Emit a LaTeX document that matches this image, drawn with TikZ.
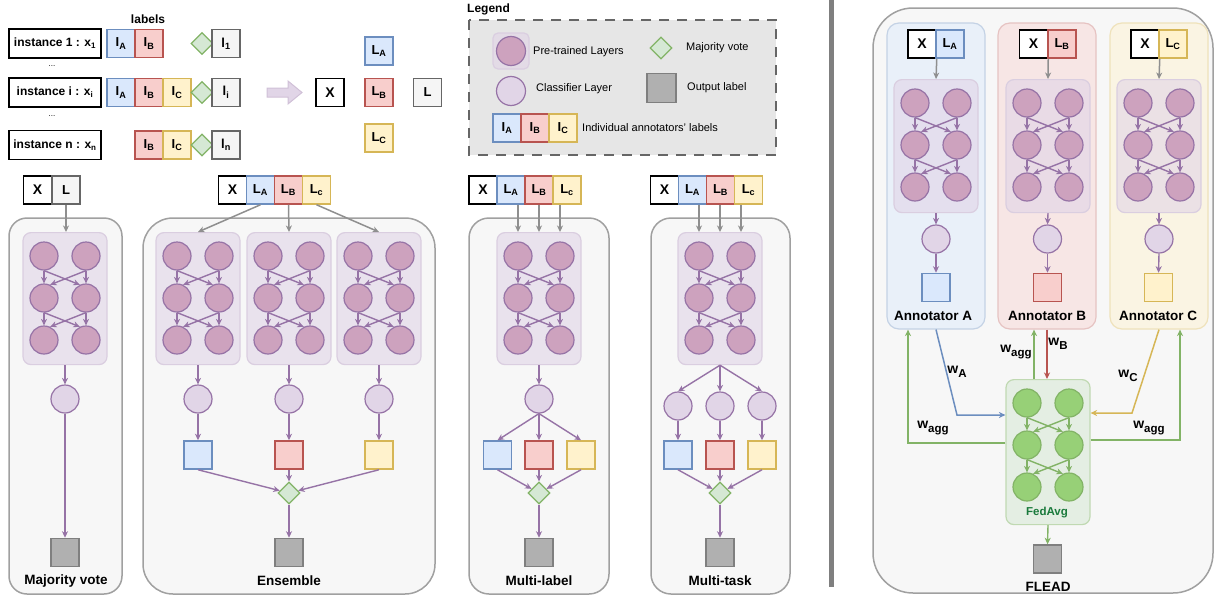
\documentclass[tikz,border=0pt]{standalone}
\usepackage{fontspec}
\setmainfont{Liberation Sans}
\usepackage{xcolor}
\usetikzlibrary{shapes,shapes.geometric,arrows,positioning,calc,arrows.meta}

\definecolor{bluefill}{HTML}{DAE8FC}
\definecolor{blueline}{HTML}{6C8EBF}
\definecolor{redfill}{HTML}{F8CECC}
\definecolor{redline}{HTML}{B85450}
\definecolor{yelfill}{HTML}{FFF2CC}
\definecolor{yelline}{HTML}{D6B656}
\definecolor{greenfill}{HTML}{D5E8D4}
\definecolor{greenline}{HTML}{82B366}
\definecolor{neurgreen}{HTML}{97D077}
\definecolor{purpfill}{HTML}{E1D5E7}
\definecolor{purpline}{HTML}{9673A6}
\definecolor{neurfill}{HTML}{CDA2BE}
\definecolor{grayfill}{HTML}{F5F5F5}
\definecolor{grayline}{HTML}{666666}
\definecolor{outfill}{HTML}{B0B0B0}
\definecolor{outgray}{HTML}{7F7F7F}
\definecolor{panelfill}{HTML}{F7F7F7}
\definecolor{panelline}{HTML}{A0A0A0}
\definecolor{arrowgray}{HTML}{8F8F8F}
\definecolor{legendfill}{HTML}{E6E6E6}
\definecolor{fedtext}{HTML}{1A7A3C}

\newcommand{\fsz}[1]{\fontsize{#1}{#1}\selectfont}
\newcommand{\lowtxt}[1]{\raisebox{-0.3em}{\fsz{11.5}#1}}

% block of pre-trained layers: name, centre x, top y, height, p/g
\newcommand{\layerblock}[5]{%
  \node[blk#5, minimum height=#4, anchor=north] (#1) at (#2,#3) {};
  \foreach \row/\yy in {1/24,2/66,3/108} {
    \node[neur#5] (#1-\row1) at ({#2-21},{#3+\yy}) {};
    \node[neur#5] (#1-\row2) at ({#2+21},{#3+\yy}) {};
  }
  \foreach \row/\nxt in {1/2,2/3} {
    \draw[link#5] (#1-\row1.south) -- (#1-\nxt1.north);
    \draw[link#5] (#1-\row2.south) -- (#1-\nxt2.north);
    \draw[link#5] (#1-\row1.south) -- (#1-\nxt2.115);
    \draw[link#5] (#1-\row2.south) -- (#1-\nxt1.65);
  }
}

\begin{document}
\begin{tikzpicture}[x=1pt, y=-1pt,
    box/.style={draw, line width=1.5pt, minimum width=28, minimum height=28, inner sep=0pt, font=\bfseries\fsz{13}},
    xbox/.style={box, draw=black, fill=white, font=\bfseries\fsz{14}},
    abox/.style={box, draw=blueline, fill=bluefill},
    bbox/.style={box, draw=redline, fill=redfill},
    cbox/.style={box, draw=yelline, fill=yelfill},
    lbox/.style={box, draw=grayline, fill=grayfill},
    inst/.style={draw=black, line width=1.5pt, minimum width=92, minimum height=29, inner sep=0pt, font=\bfseries\fsz{12}},
    vote/.style={diamond, draw=greenline, fill=greenfill, line width=1.2pt, minimum width=22, minimum height=22, inner sep=0pt},
    outsq/.style={draw=outgray, fill=outfill, line width=1.5pt, minimum size=28, inner sep=0pt},
    neurp/.style={circle, draw=purpline, fill=neurfill, line width=1.2pt, minimum size=28, inner sep=0pt},
    neurg/.style={circle, draw=greenline, fill=neurgreen, line width=1.2pt, minimum size=28, inner sep=0pt},
    clf/.style={circle, draw=purpline, fill=purpfill, line width=1.2pt, minimum size=28, inner sep=0pt},
    blkp/.style={draw=purpline!35, fill=purpfill, fill opacity=0.6, rounded corners=8, line width=1.2pt, minimum width=84, inner sep=0pt},
    blkg/.style={draw=greenline!50, fill=greenfill, fill opacity=0.55, rounded corners=8, line width=1.2pt, minimum width=84, inner sep=0pt},
    linkp/.style={draw=purpline, line width=1.4pt, -{Stealth[length=6.5pt,width=6pt,inset=2pt]}},
    linkg/.style={draw=greenline, line width=1.4pt, -{Stealth[length=6.5pt,width=6pt,inset=2pt]}},
    feed/.style={draw=arrowgray, line width=1.5pt, -{Stealth[length=6.5pt,width=6pt,inset=2pt]}},
    flow/.style={draw=#1, line width=1.5pt, -{Stealth[length=6.5pt,width=6pt,inset=2pt]}},
    panel/.style={draw=panelline, fill=panelfill, line width=1.5pt},
    annp/.style={rounded corners=12, line width=1.2pt, minimum width=98, minimum height=306, inner sep=0pt},
    title/.style={font=\bfseries\fsz{13.5}, inner sep=0pt},
    txt/.style={font=\fsz{11}, inner sep=0pt, anchor=west},
    wlab/.style={font=\bfseries\fsz{14}, inner sep=0pt}]
  \useasboundingbox (0,0) rectangle (1214,597);

  % Instances and their labels
  \node[font=\bfseries\fsz{12}, inner sep=0pt] (labtitle) at (148,19) {labels};
  \node[inst] (ins1) at (55,43.5) {instance 1 : x\textsubscript{1}};
  \node[abox] (r1a) at (121,43.5) {I\textsubscript{A}};
  \node[bbox] (r1b) at (149,43.5) {I\textsubscript{B}};
  \node[vote] (r1v) at (202,43.5) {};
  \node[lbox] (r1l) at (226,43.5) {l\textsubscript{1}};
  \node[font=\fsz{8}, inner sep=0pt] (dots1) at (52,66) {...};
  \node[inst] (insi) at (55,92.5) {instance i : x\textsubscript{i}};
  \node[abox] (ria) at (121,92.5) {I\textsubscript{A}};
  \node[bbox] (rib) at (149,92.5) {I\textsubscript{B}};
  \node[cbox] (ric) at (177,92.5) {I\textsubscript{C}};
  \node[vote] (riv) at (202,92.5) {};
  \node[lbox] (ril) at (226,92.5) {l\textsubscript{i}};
  \node[font=\fsz{8}, inner sep=0pt] (dots2) at (52,116) {...};
  \node[inst] (insn) at (55,145) {instance n : x\textsubscript{n}};
  \node[bbox] (rnb) at (149,145) {I\textsubscript{B}};
  \node[cbox] (rnc) at (177,145) {I\textsubscript{C}};
  \node[vote] (rnv) at (202,145) {};
  \node[lbox] (rnl) at (226,145) {l\textsubscript{n}};

  % Conversion arrow
  \draw[draw=purpline!45, fill=purpfill, line width=1pt] (267,88) -- (288,88) -- (288,81) -- (302,92.5)
    -- (288,104) -- (288,97) -- (267,97) -- cycle;
  \node[xbox] (cx) at (330,92.5) {X};
  \node[abox] (cla) at (379,51) {L\textsubscript{A}};
  \node[bbox] (clb) at (379,92.5) {L\textsubscript{B}};
  \node[cbox] (clc) at (379,138) {L\textsubscript{C}};
  \node[lbox] (cl) at (427.5,92.5) {L};

  % Legend
  \node[font=\bfseries\fsz{12}, inner sep=0pt, anchor=west] (legtitle) at (467,9) {Legend};
  \draw[draw=grayline, fill=legendfill, line width=1.5pt, dash pattern=on 10pt off 8pt] (469,20) rectangle (776,155);
  \node[blkp, minimum width=36, minimum height=36, rounded corners=5] (legblk) at (511,51) {};
  \node[neurp, minimum size=29] (legneur) at (511,51) {};
  \node[txt] (legt1) at (533,52) {Pre-trained Layers};
  \node[clf, minimum size=29] (legclf) at (511,91) {};
  \node[txt] (legt2) at (536,89) {Classifier Layer};
  \node[vote] (legvote) at (661,48) {};
  \node[txt] (legt3) at (686,48) {Majority vote};
  \node[outsq, minimum size=29] (legout) at (661.5,88) {};
  \node[txt] (legt4) at (687,88) {Output label};
  \node[abox] (lega) at (507,128) {I\textsubscript{A}};
  \node[bbox] (legb) at (535,128) {I\textsubscript{B}};
  \node[cbox] (legc) at (563,128) {I\textsubscript{C}};
  \node[txt] (legt5) at (582,128) {Individual annotators' labels};

  % Majority vote
  \draw[panel, rounded corners=18] (9,218) rectangle (122,594);
  \node[xbox] (mvx) at (37.5,190) {X};
  \node[lbox] (mvl) at (66,190) {L};
  \layerblock{mvnet}{65}{232}{132}{p}
  \draw[feed] (mvl.south) -- (mvl.south |- mvnet.north);
  \node[clf] (mvclf) at (65,399) {};
  \node[outsq] (mvout) at (65,552.5) {};
  \draw[linkp] (mvnet.south) -- (mvclf.north);
  \draw[linkp] (mvclf.south) -- (mvout.north);
  \node[title] (mvtitle) at (66,581) {Majority vote};

  % Ensemble
  \draw[panel, rounded corners=30] (143,218) rectangle (435,594);
  \node[xbox] (enx) at (232.5,190) {X};
  \node[abox] (enla) at (260.5,190) {L\textsubscript{A}};
  \node[bbox] (enlb) at (288.5,190) {L\textsubscript{B}};
  \node[cbox] (enlc) at (316.5,190) {L\textsubscript{c}};
  \layerblock{ens1}{198}{232}{132}{p}
  \layerblock{ens2}{289}{232}{132}{p}
  \layerblock{ens3}{379}{232}{132}{p}
  \draw[feed] (enla.south) -- (ens1.north);
  \draw[feed] (enlb.south) -- (ens2.north);
  \draw[feed] (enlc.south) -- (ens3.north);
  \node[clf] (enclf1) at (198,399) {};
  \node[clf] (enclf2) at (289,399) {};
  \node[clf] (enclf3) at (379,399) {};
  \node[abox] (ensqa) at (198,455) {};
  \node[bbox] (ensqb) at (289,455) {};
  \node[cbox] (ensqc) at (379,455) {};
  \node[vote] (envote) at (289,493) {};
  \node[outsq] (enout) at (289,552.5) {};
  \foreach \k/\sq in {1/a,2/b,3/c} {
    \draw[linkp] (ens\k.south) -- (enclf\k.north);
    \draw[linkp] (enclf\k.south) -- (ensq\sq.north);
  }
  \draw[linkp] (ensqa.south) -- (envote);
  \draw[linkp] (ensqb.south) -- (envote.north);
  \draw[linkp] (ensqc.south) -- (envote);
  \draw[linkp] (envote.south) -- (enout.north);
  \node[title] (entitle) at (289,581) {Ensemble};

  % Multi-label
  \draw[panel, rounded corners=20] (469,218) rectangle (609,594);
  \node[xbox] (mlx) at (483,190) {X};
  \node[abox] (mlla) at (511,190) {L\textsubscript{A}};
  \node[bbox] (mllb) at (539,190) {L\textsubscript{B}};
  \node[cbox] (mllc) at (567,190) {L\textsubscript{c}};
  \layerblock{mlnet}{539}{232}{132}{p}
  \draw[feed] (mlla.south -| mlnet-11) -- (mlnet-11 |- mlnet.north);
  \draw[feed] (mllb.south) -- (mlnet.north);
  \draw[feed] (mllc.south -| mlnet-12) -- (mlnet-12 |- mlnet.north);
  \node[clf] (mlclf) at (539,399) {};
  \node[abox] (mlsqa) at (497.5,455) {};
  \node[bbox] (mlsqb) at (539,455) {};
  \node[cbox] (mlsqc) at (581,455) {};
  \node[vote] (mlvote) at (539,493) {};
  \node[outsq] (mlout) at (539,552.5) {};
  \draw[linkp] (mlnet.south) -- (mlclf.north);
  \foreach \sq in {a,b,c}
    \draw[linkp] (mlclf.south) -- (mlsq\sq.north);
  \draw[linkp] (mlsqa.south) -- (mlvote);
  \draw[linkp] (mlsqb.south) -- (mlvote.north);
  \draw[linkp] (mlsqc.south) -- (mlvote);
  \draw[linkp] (mlvote.south) -- (mlout.north);
  \node[title] (mltitle) at (539,581) {Multi-label};

  % Multi-task
  \draw[panel, rounded corners=20] (651,218) rectangle (790,594);
  \node[xbox] (mtx) at (664.5,190) {X};
  \node[abox] (mtla) at (692.5,190) {L\textsubscript{A}};
  \node[bbox] (mtlb) at (720.5,190) {L\textsubscript{B}};
  \node[cbox] (mtlc) at (748.5,190) {L\textsubscript{c}};
  \layerblock{mtnet}{720}{232}{132}{p}
  \draw[feed] (mtla.south -| mtnet-11) -- (mtnet-11 |- mtnet.north);
  \draw[feed] (mtlb.south -| mtnet) -- (mtnet.north);
  \draw[feed] (mtlc.south -| mtnet-12) -- (mtnet-12 |- mtnet.north);
  \node[clf] (mtclf1) at (678,406) {};
  \node[clf] (mtclf2) at (720,406) {};
  \node[clf] (mtclf3) at (762,406) {};
  \node[abox] (mtsqa) at (678,455) {};
  \node[bbox] (mtsqb) at (720,455) {};
  \node[cbox] (mtsqc) at (762,455) {};
  \node[vote] (mtvote) at (720,493) {};
  \node[outsq] (mtout) at (720,552.5) {};
  \foreach \k/\sq in {1/a,2/b,3/c} {
    \draw[linkp] (mtnet.south) -- (mtclf\k.north);
    \draw[linkp] (mtclf\k.south) -- (mtsq\sq.north);
  }
  \draw[linkp] (mtsqa.south) -- (mtvote);
  \draw[linkp] (mtsqb.south) -- (mtvote.north);
  \draw[linkp] (mtsqc.south) -- (mtvote);
  \draw[linkp] (mtvote.south) -- (mtout.north);
  \node[title] (mttitle) at (720,581) {Multi-task};

  % Separator
  \draw[draw=outgray, line width=5pt] (831.5,0) -- (831.5,587);

  % FLEAD
  \draw[panel, rounded corners=40] (873,8) rectangle (1213,593);
  \node[annp, draw=blueline!40, fill=bluefill, fill opacity=0.45] (annA) at (936,176) {};
  \node[annp, draw=redline!35, fill=redfill, fill opacity=0.4] (annB) at (1047,176) {};
  \node[annp, draw=yelline!40, fill=yelfill, fill opacity=0.45] (annC) at (1159,176) {};
  \node[xbox] (flxa) at (922,44) {X};
  \node[abox] (flla) at (950,44) {L\textsubscript{A}};
  \node[xbox] (flxb) at (1033.5,44) {X};
  \node[bbox] (fllb) at (1062,44) {L\textsubscript{B}};
  \node[xbox] (flxc) at (1145,44) {X};
  \node[cbox] (fllc) at (1173,44) {L\textsubscript{C}};
  \layerblock{flA}{936}{79}{133}{p}
  \layerblock{flB}{1048}{79}{133}{p}
  \layerblock{flC}{1159}{79}{133}{p}
  \draw[feed] (flxa.south east) -- (flA.north);
  \draw[feed] (flxb.south east) -- (flB.north);
  \draw[feed] (flxc.south east) -- (flC.north);
  \node[clf] (flclfA) at (936,239) {};
  \node[clf] (flclfB) at (1047.5,239) {};
  \node[clf] (flclfC) at (1159,239) {};
  \node[abox] (flsqA) at (936,287.5) {};
  \node[bbox] (flsqB) at (1047.5,287.5) {};
  \node[cbox] (flsqC) at (1158.5,287.5) {};
  \foreach \k in {A,B,C} {
    \draw[linkp] (fl\k.south) -- (flclf\k.north);
    \draw[linkp] (flclf\k.south) -- (flsq\k.north);
  }
  \node[title] (anntA) at (933,316) {Annotator A};
  \node[title] (anntB) at (1047,316) {Annotator B};
  \node[title] (anntC) at (1158,316) {Annotator C};

  % Aggregation
  \layerblock{fed}{1048}{379}{145}{g}
  \node[font=\bfseries\fsz{11.5}, text=fedtext, inner sep=0pt] (fedtitle) at (1047,513) {FedAvg};
  \node[outsq] (flout) at (1047.5,559) {};
  \draw[linkg] (fed.south) -- (flout.north);
  \node[title] (fltitle) at (1048,587) {FLEAD};

  \coordinate (wa) at (957,415);
  \coordinate (ga) at (908,443);
  \coordinate (gb) at ([xshift=-14pt]fed.north);
  \coordinate (wc) at (1132,413);
  \coordinate (gc) at (1180,440);
  \draw[flow=blueline] (annA.south) -- (wa) -- (wa -| fed.west);
  \draw[flow=greenline] (ga -| fed.west) -- (ga) -- (ga |- annA.south);
  \draw[flow=greenline] (gb) -- (gb |- annB.south);
  \draw[flow=redline] (annB.south) -- (annB.south |- fed.north);
  \draw[flow=yelline] (annC.south) -- (wc) -- (wc -| fed.east);
  \draw[flow=greenline] (gc -| fed.east) -- (gc) -- (gc |- annC.south);
  \node[wlab] (lwa) at (957,372) {w\lowtxt{A}};
  \node[wlab] (lgA) at (933,428) {w\lowtxt{agg}};
  \node[wlab] (lgB) at (1016,352) {w\lowtxt{agg}};
  \node[wlab] (lwb) at (1058,344) {w\lowtxt{B}};
  \node[wlab] (lwc) at (1128,376) {w\lowtxt{C}};
  \node[wlab] (lgC) at (1149,428) {w\lowtxt{agg}};
\end{tikzpicture}
\end{document}
